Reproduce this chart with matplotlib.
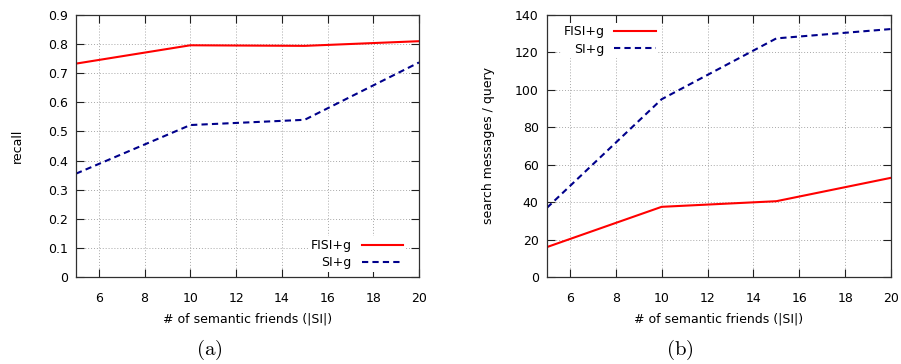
import matplotlib
matplotlib.use("Agg")
import matplotlib.pyplot as plt

# data
friends = [5, 10, 15, 20]
recall_fisi = [0.733, 0.796, 0.794, 0.810]
recall_si = [0.355, 0.522, 0.540, 0.737]
msgs_fisi = [16.0, 37.5, 40.5, 53.0]
msgs_si = [37.0, 95.0, 127.5, 132.5]

xticks = [6, 8, 10, 12, 14, 16, 18, 20]
recall_ticks = [0, 0.1, 0.2, 0.3, 0.4, 0.5, 0.6, 0.7, 0.8, 0.9]
msgs_ticks = [0, 20, 40, 60, 80, 100, 120, 140]

plt.rcParams['font.family'] = ['DejaVu Sans']
plt.rcParams['font.size'] = 9
plt.rcParams['mathtext.fontset'] = 'cm'

red = '#ff0000'
navy = '#00008b'

fig = plt.figure(figsize=(9.01, 3.64), dpi=100)
W, H = 901.0, 364.0
axA = fig.add_axes([76/W, 1-277/H, (419-76)/W, (277-15)/H])
axB = fig.add_axes([547/W, 1-277/H, (891-547)/W, (277-15)/H])

def style(ax, yticks, ylim, ylabel, fmt):
    ax.set_xlim(5, 20)
    ax.set_ylim(*ylim)
    ax.set_xticks(xticks)
    ax.set_yticks(yticks)
    ax.set_yticklabels([fmt(v) for v in yticks])
    ax.grid(True, color='#a8a8a8', linestyle=(0, (1, 2)), linewidth=0.7)
    ax.set_axisbelow(True)
    ax.tick_params(direction='in', top=True, right=True, length=6, width=0.8,
                   labelsize=9, color='#202020')
    ax.tick_params(axis='x', pad=11)
    ax.tick_params(axis='y', pad=6)
    for s in ax.spines.values():
        s.set_color('#303030')
        s.set_linewidth(0.9)
    ax.set_xlabel('# of semantic friends (|SI|)', fontsize=9, labelpad=5)
    ax.set_ylabel(ylabel, fontsize=9)

def white_legend(ax, **kw):
    lg = ax.legend(markerfirst=False, frameon=True, fancybox=False,
                   handlelength=3.3, handletextpad=0.8, borderpad=0.2,
                   labelspacing=0.35, fontsize=9, **kw)
    lg.get_frame().set_edgecolor('none')
    lg.get_frame().set_facecolor('white')
    lg.get_frame().set_alpha(1)
    return lg

axA.plot(friends, recall_fisi, color=red, lw=1.5, label='FISI+g')
axA.plot(friends, recall_si, color=navy, lw=1.5, ls=(0, (3, 2)), label='SI+g')
style(axA, recall_ticks, (0, 0.9), 'recall', lambda v: ('%g' % v))
axA.yaxis.set_label_coords(-0.152, 0.5)
white_legend(axA, loc='lower right', borderaxespad=0, bbox_to_anchor=(0.96, 0.02))

axB.plot(friends, msgs_fisi, color=red, lw=1.5, label='FISI+g')
axB.plot(friends, msgs_si, color=navy, lw=1.5, ls=(0, (3, 2)), label='SI+g')
style(axB, msgs_ticks, (0, 140), 'search messages / query', lambda v: '%d' % v)
axB.yaxis.set_label_coords(-0.151, 0.5)
white_legend(axB, loc='upper left', borderaxespad=0, bbox_to_anchor=(0.04, 0.97))

fig.text(209/W, 1-350/H, r'$\mathrm{(a)}$', fontsize=15, ha='center', va='center')
fig.text(680/W, 1-350/H, r'$\mathrm{(b)}$', fontsize=15, ha='center', va='center')

fig.savefig('out.png', dpi=100)
